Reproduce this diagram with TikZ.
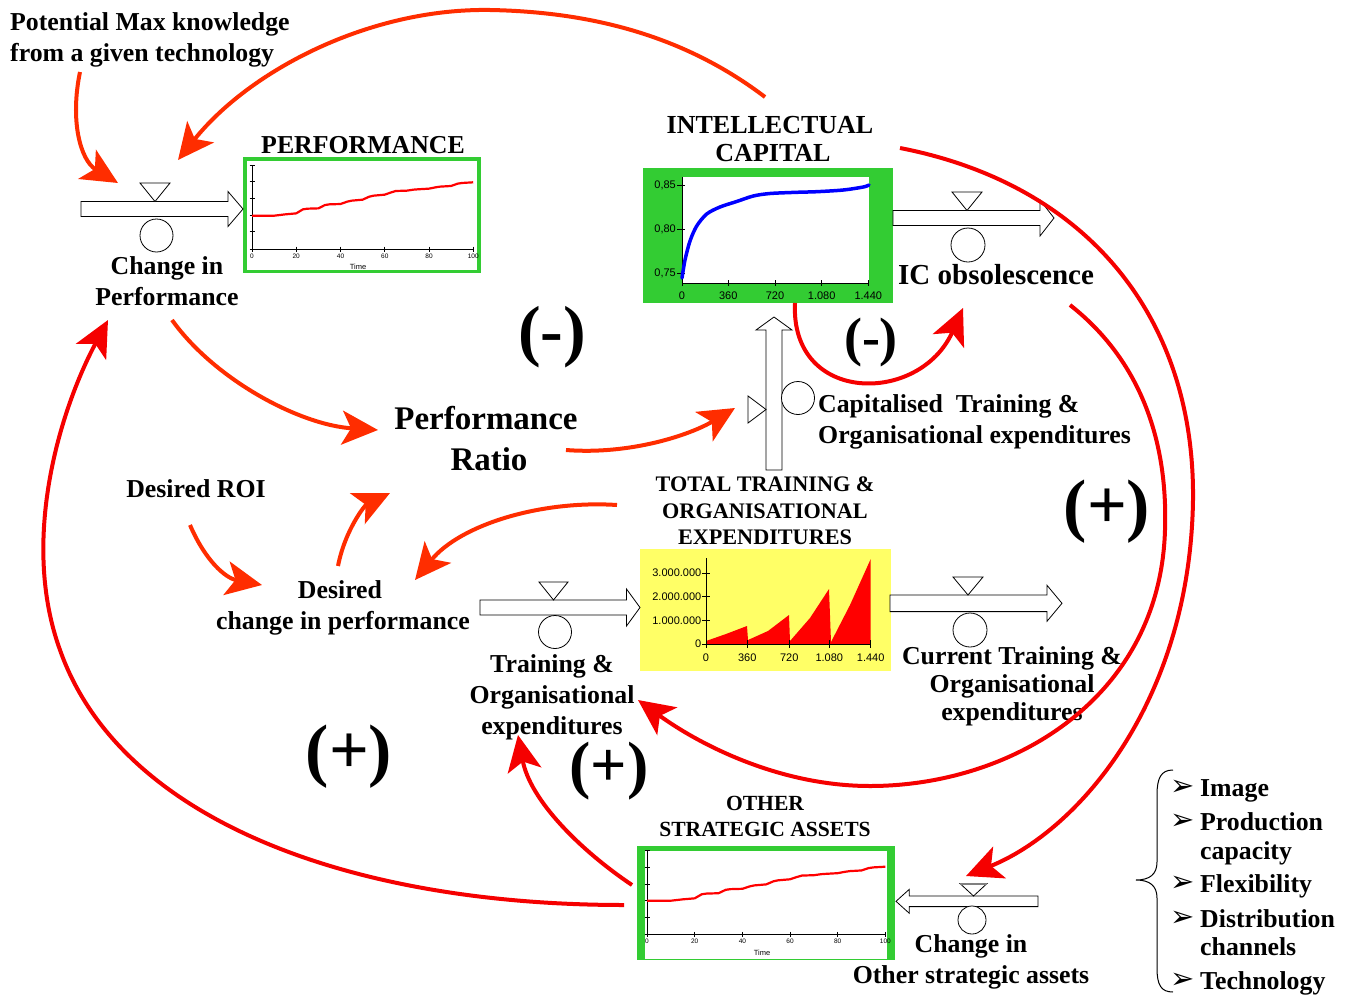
\documentclass[tikz,border=0pt]{standalone}
\usepackage{fontspec}
\setmainfont{Liberation Serif}
\newfontfamily\axfont{Liberation Sans}
\newfontfamily\symfont{DejaVu Sans}
\usetikzlibrary{arrows.meta}
\definecolor{arrred}{RGB}{255,45,0}
\definecolor{loopred}{RGB}{245,0,0}
\definecolor{boxgreen}{RGB}{51,204,51}
\definecolor{boxyellow}{RGB}{255,255,102}
\definecolor{curvered}{RGB}{255,0,0}
\definecolor{curveblue}{RGB}{0,0,255}
\newcommand{\hpipe}[6]{\draw[pipe] ({#1},{#3-#4}) -- ({#2-(#6)},{#3-#4}) -- ({#2-(#6)},{#3-#5}) -- ({#2},{#3}) -- ({#2-(#6)},{#3+#5}) -- ({#2-(#6)},{#3+#4}) -- ({#1},{#3+#4}) -- cycle;}
\tikzset{
 lbl/.style={font=\fontsize{25.8}{30}\selectfont\bfseries, inner sep=0pt, anchor=base},
 lblw/.style={lbl, anchor=base west},
 capsb/.style={font=\fontsize{22.2}{26}\selectfont\bfseries, inner sep=0pt, anchor=base},
 capsr/.style={font=\fontsize{21.6}{26}\selectfont\bfseries, inner sep=0pt, anchor=base},
 biglbl/.style={font=\fontsize{33}{38}\selectfont\bfseries, inner sep=0pt, anchor=base},
 sign/.style={font=\fontsize{#1}{#1}\selectfont\bfseries, inner sep=0pt, anchor=center},
 fb/.style={draw=arrred, line width=4pt, -{Stealth[length=36pt,width=34pt,inset=9pt]}},
 fbloop/.style={fb, draw=loopred},
 pipe/.style={draw=black, line width=0.8pt, fill=white, line join=miter},
 valvetri/.style={draw=black, line width=0.8pt, fill=white},
 valvecirc/.style={circle, draw=black, line width=0.8pt, fill=white, inner sep=0pt, minimum size=#1},
 axisline/.style={line width=1pt, draw=black},
 tinylbl/.style={font=\axfont\fontsize{6.5}{7}\selectfont, inner sep=0pt},
 timelbl/.style={font=\axfont\fontsize{7.5}{8}\selectfont, inner sep=0pt},
 axlbl/.style={font=\axfont\fontsize{11}{12}\selectfont, inner sep=0pt},
 listsym/.style={font=\symfont\fontsize{29}{30}\selectfont, inner sep=0pt, anchor=center},
}
\begin{document}
\begin{tikzpicture}[x=1pt,y=-1pt]
\useasboundingbox (0,0) rectangle (1355,996);
\fill[white] (0,0) rectangle (1355,996);

% ---------- PERFORMANCE graph ----------
\fill[boxgreen] (243,157) rectangle (481,273);
\fill[white] (246.5,160.5) rectangle (476.5,269.5);
\draw[axisline] (252,165) -- (252,249) -- (474,249);
\foreach \yy in {165,181.7,198.3,215,231.7,249} \draw[axisline] (249.5,\yy) -- (254.5,\yy);
\foreach \xx/\lab in {252/0,296.2/20,340.5/40,384.8/60,429/80,473.3/100} {
  \draw[axisline] (\xx,246.5) -- (\xx,251.5);
  \node[tinylbl] at (\xx,256.5) {\lab};
}
\node[timelbl] (perftime) at (358,267) {Time};
\begin{scope}[shift={(252,215.7)}, x=2.212pt, y=33.4pt]
\draw[curvered, line width=2.2pt, line join=round] plot coordinates {(0,0) (10,0) (15,0.04) (20,0.07) (23,0.19) (25,0.21) (30,0.22) (33,0.32) (35,0.34) (40,0.35) (43,0.42) (45,0.45) (50,0.48) (53,0.57) (55,0.60) (60,0.63) (63,0.70) (65,0.74) (70,0.75) (73,0.78) (75,0.79) (80,0.81) (83,0.85) (85,0.87) (90,0.89) (93,0.96) (95,0.98) (100,1)};
\end{scope}

% ---------- OTHER STRATEGIC ASSETS graph ----------
\fill[boxgreen] (637,846) rectangle (895,960);
\fill[white] (644.5,850.5) rectangle (887,959);
\draw[axisline] (647,850) -- (647,934.3) -- (885.5,934.3);
\foreach \yy in {850,867,884,900.7,917.5,934.3} \draw[axisline] (644.5,\yy) -- (649.5,\yy);
\foreach \xx/\lab in {647/0,694.7/20,742.4/40,790/60,837.7/80,885.4/100} {
  \draw[axisline] (\xx,931.8) -- (\xx,936.8);
  \node[tinylbl] at (\xx,941.5) {\lab};
}
\node[timelbl] (osatime) at (762,953) {Time};
\begin{scope}[shift={(647,900.7)}, x=2.384pt, y=34pt]
\draw[curvered, line width=2.2pt, line join=round] plot coordinates {(0,0) (10,0) (15,0.04) (20,0.07) (23,0.19) (25,0.21) (30,0.22) (33,0.32) (35,0.34) (40,0.35) (43,0.42) (45,0.45) (50,0.48) (53,0.57) (55,0.60) (60,0.63) (63,0.70) (65,0.74) (70,0.75) (73,0.78) (75,0.79) (80,0.81) (83,0.85) (85,0.87) (90,0.89) (93,0.96) (95,0.98) (100,1)};
\end{scope}

% ---------- INTELLECTUAL CAPITAL graph ----------
\fill[boxgreen] (643,168) rectangle (893,303);
\fill[white] (681.5,177) rectangle (869,283);
\draw[axisline] (682,177) -- (682,283) -- (869,283);
\foreach \yy/\lab in {185.7/{0,85},229.7/{0,80},273.3/{0,75}} {
  \draw[axisline] (677,\yy) -- (685,\yy);
  \node[axlbl, anchor=east] at (676,\yy) {\lab};
}
\foreach \xx/\lab in {682/0,728.3/360,775/720,821.7/{1.080},868.3/{1.440}} {
  \draw[axisline] (\xx,280) -- (\xx,286);
  \node[axlbl] at (\xx,295.5) {\lab};
}
\draw[curveblue, line width=3.5pt, line cap=round] plot[smooth] coordinates {(682,278) (685,260) (690,241) (696.7,226) (706.7,214) (720,207) (736.7,201.5) (753.3,196) (770,193.5) (796.7,192.3) (816.7,191.7) (843.3,190) (863.3,187) (869,185)};

% ---------- TOTAL TRAINING graph ----------
\fill[boxyellow] (640,549) rectangle (891,671);
\fill[curvered] (706,644) -- (706,641) -- (726,634) -- (747,626) -- (748,640) -- (768,631) -- (789,615) -- (790,641) -- (810,618) -- (829,589) -- (831,642) -- (850,605) -- (870.7,559) -- (870.7,644) -- cycle;
\draw[axisline] (706,558) -- (706,644) -- (871,644);
\foreach \yy/\lab in {573/{3.000.000},596.7/{2.000.000},620.7/{1.000.000},644/0} {
  \draw[axisline] (702,\yy) -- (710,\yy);
  \node[axlbl, anchor=east] at (701.5,\yy) {\lab};
}
\foreach \xx/\lab in {706/0,747.3/360,789.3/720,829.3/{1.080},870.7/{1.440}} {
  \draw[axisline] (\xx,640) -- (\xx,648);
  \node[axlbl] at (\xx,657.5) {\lab};
}

% ---------- valves / pipes ----------
\hpipe{81}{243}{209}{7.5}{17.5}{15}
\draw[valvetri] (140,183) -- (170,183) -- (155,201.5) -- cycle;
\node[valvecirc=33pt] (cperf) at (156.5,235.5) {};

\hpipe{893}{1054}{218}{7.5}{18}{14}
\draw[valvetri] (952,192) -- (982,192) -- (967,210.5) -- cycle;
\node[valvecirc=34pt] (cobs) at (968,245) {};

\hpipe{480}{640}{607.5}{7.5}{18.5}{13.5}
\draw[valvetri] (539,582) -- (568,582) -- (553.5,600) -- cycle;
\node[valvecirc=33pt] (ctrain) at (555,632) {};

\hpipe{890}{1062}{603.3}{8.3}{18}{15}
\draw[valvetri] (953,577) -- (983,577) -- (968,595) -- cycle;
\node[valvecirc=34pt] (ccur) at (970,630) {};

\hpipe{1038}{896}{901.3}{5.3}{12}{-13.3}
\draw[valvetri] (960,883.5) -- (987,883.5) -- (973.5,896) -- cycle;
\draw[line width=2pt, gray] (960,883.5) -- (987,883.5);
\node[valvecirc=28pt] (cosa) at (972,920) {};

\draw[pipe] (766,470) -- (766,330) -- (756,330) -- (774,317) -- (792,330) -- (782,330) -- (782,470) -- cycle;
\draw[valvetri] (748,396) -- (748,423) -- (766,409.5) -- cycle;
\node[valvecirc=33pt] (ccap) at (798,398) {};

% ---------- texts ----------
\node[lblw] (pot1) at (10,30) {Potential Max knowledge};
\node[lblw] (pot2) at (10,61) {from a given technology};
\node[lbl] (perftitle) at (363,153) {PERFORMANCE};
\node[lbl] (chg1) at (167,274) {Change in};
\node[lbl] (chg2) at (167,305) {Performance};
\node[font=\fontsize{26}{30}\selectfont\bfseries, inner sep=0pt, anchor=base] (ic1) at (770,133) {INTELLECTUAL};
\node[font=\fontsize{26}{30}\selectfont\bfseries, inner sep=0pt, anchor=base] (ic2) at (773,161) {CAPITAL};
\node[font=\fontsize{29}{33}\selectfont\bfseries, inner sep=0pt, anchor=base west] (icobs) at (898,284) {IC obsolescence};
\node[biglbl] (ratio1) at (486,429) {Performance};
\node[biglbl] (ratio2) at (489,470) {Ratio};
\node[lblw] (cap1) at (818,412) {Capitalised\ \ Training \&};
\node[lblw] (cap2) at (818,443) {Organisational expenditures};
\node[capsb] (tot1) at (765,491) {TOTAL TRAINING \&};
\node[capsb] (tot2) at (765,518) {ORGANISATIONAL};
\node[capsb] (tot3) at (765,544) {EXPENDITURES};
\node[lbl] (roi) at (196,497) {Desired ROI};
\node[lbl] (des1) at (340,598) {Desired};
\node[lbl] (des2) at (343,629) {change in performance};
\node[lbl] (tr1) at (552,672) {Training \&};
\node[lbl] (tr2) at (552,703) {Organisational};
\node[lbl] (tr3) at (552,734) {expenditures};
\node[lbl] (cur1) at (1012,664) {Current Training \&};
\node[lbl] (cur2) at (1012,692) {Organisational};
\node[lbl] (cur3) at (1012,720) {expenditures};
\node[capsr] (osa1) at (765,810) {OTHER};
\node[capsr] (osa2) at (765,836) {STRATEGIC ASSETS};
\node[lbl] (och1) at (971,952) {Change in};
\node[lbl] (och2) at (971,983) {Other strategic assets};

\node[sign=68] (s1) at (552,337) {(-)};
\node[sign=54] (s2) at (871,343) {(-)};
\node[sign=70] (s3) at (1107,512) {(+)};
\node[sign=70] (s4) at (349,757) {(+)};
\node[sign=64] (s5) at (609,771) {(+)};

% ---------- list ----------
\draw[line width=1pt] (1173,770) .. controls (1161,770) and (1157,778) .. (1157,795) -- (1157,862) .. controls (1157,874) and (1150,880) .. (1136,880) .. controls (1150,880) and (1157,886) .. (1157,898) -- (1157,968) .. controls (1157,985) and (1161,992) .. (1173,992);
\foreach \yy/\nm in {788/la,822/lb,884/lc,919/ld,981/le} \node[listsym] (\nm) at (1183,\yy) {➢};
\node[lblw] (li1) at (1200,796) {Image};
\node[lblw] (li2) at (1200,830) {Production};
\node[lblw] (li3) at (1200,859) {capacity};
\node[lblw] (li4) at (1200,892) {Flexibility};
\node[lblw] (li5) at (1200,927) {Distribution};
\node[lblw] (li6) at (1200,955) {channels};
\node[lblw] (li7) at (1200,989) {Technology};

% ---------- connector end points ----------
\coordinate (aS) at (80,72);    \coordinate (aE) at (118,183);
\coordinate (bS) at (765,97);   \coordinate (bM) at (490,10);  \coordinate (bE) at (178,160);
\coordinate (cS) at (172,320);  \coordinate (cE) at (378,430);
\coordinate (dS) at (566,450);  \coordinate (dE) at (735,408);
\coordinate (eS) at (190,525);  \coordinate (eE) at (262,585);
\coordinate (fS) at (338,566);  \coordinate (fE) at (390,493);
\coordinate (gS) at (617,505);  \coordinate (gE) at (415,580);
\coordinate (hS) at (795,303);  \coordinate (hE) at (963,308);
\coordinate (iS) at (900,148);  \coordinate (iM) at (1193,500); \coordinate (iE) at (966,876);
\coordinate (jS) at (1070,305); \coordinate (jM) at (1165,530); \coordinate (jN) at (870,786); \coordinate (jE) at (638,700);
\coordinate (kS) at (624,905);  \coordinate (kM) at (60,650);  \coordinate (kE) at (108,320);
\coordinate (lS) at (632,885);  \coordinate (lE) at (518,735);

% ---------- red connectors ----------
\draw[fb] (aS) .. controls (70,120) and (80,160) .. (aE);
\draw[fb] (bS) .. controls (690,40) and (600,12) .. (bM) .. controls (370,8) and (250,70) .. (bE);
\draw[fb] (cS) .. controls (215,380) and (300,425) .. (cE);
\draw[fb] (dS) .. controls (630,455) and (690,435) .. (dE);
\draw[fb] (eS) .. controls (205,560) and (225,578) .. (eE);
\draw[fb] (fS) .. controls (345,530) and (365,505) .. (fE);
\draw[fb] (gS) .. controls (540,500) and (460,525) .. (gE);
\draw[fbloop] (hS) .. controls (790,405) and (920,405) .. (hE);
\draw[fbloop] (iS) .. controls (1090,185) and (1195,320) .. (iM) .. controls (1190,700) and (1080,830) .. (iE);
\draw[fbloop] (jS) .. controls (1140,360) and (1168,440) .. (jM) .. controls (1160,700) and (1010,786) .. (jN) .. controls (780,786) and (700,745) .. (jE);
\draw[fbloop] (kS) .. controls (350,905) and (120,820) .. (kM) .. controls (20,540) and (60,410) .. (kE);
\draw[fbloop] (lS) .. controls (580,850) and (530,800) .. (lE);
\end{tikzpicture}
\end{document}
